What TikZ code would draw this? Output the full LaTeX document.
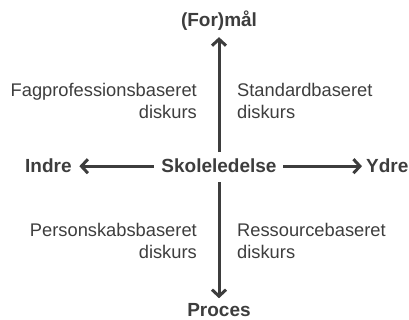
\documentclass[tikz,border=0pt]{standalone}
\usepackage{fontspec}
\setmainfont{Liberation Sans}
\usetikzlibrary{arrows.meta,positioning}

\definecolor{ink}{HTML}{3D3D3D}

\tikzset{
  axislabel/.style={font=\fontsize{19}{22}\selectfont\bfseries, text=ink, inner sep=0pt},
  discourse/.style={font=\fontsize{18.3}{22}\selectfont, text=ink, inner sep=0pt},
  axisarrow/.style={draw=ink, line width=3pt, -{Straight Barb[length=6.5pt,width=14pt]}}
}

\begin{document}
\begin{tikzpicture}[x=1pt,y=1pt]
\useasboundingbox (0,0) rectangle (409,320);

% Centre and the four ends of the axes
\node[axislabel, anchor=base] (leder) at (219,147) {Skoleledelse};
\node[axislabel, anchor=base] (maal) at (219,293) {(For)mål};
\node[axislabel, anchor=base] (proces) at (219,3.5) {Proces};
\node[axislabel, anchor=base west] (indre) at (25,147) {Indre};
\node[axislabel, anchor=base west] (ydre) at (366,147) {Ydre};

% Axes
\draw[axisarrow, shorten <=7pt, shorten >=6pt] (leder.north) -- (maal.south);
\draw[axisarrow, shorten <=9pt, shorten >=5pt] (leder.south) -- (proces.north);
\draw[axisarrow, shorten <=7.5pt, shorten >=7.5pt] (leder.west) -- (indre.east);
\draw[axisarrow, shorten <=6.5pt, shorten >=4pt] (leder.east) -- (ydre.west);

% The four discourses
\node[discourse, align=right, anchor=north east] (fag) at (197,237) {Fagprofessionsbaseret\\diskurs};
\node[discourse, align=left, anchor=north west] (standard) at (237,237) {Standardbaseret\\diskurs};
\node[discourse, align=right, anchor=north east] (person) at (197,97) {Personskabsbaseret\\diskurs};
\node[discourse, align=left, anchor=north west] (ressource) at (237,97) {Ressourcebaseret\\diskurs};
\end{tikzpicture}
\end{document}
